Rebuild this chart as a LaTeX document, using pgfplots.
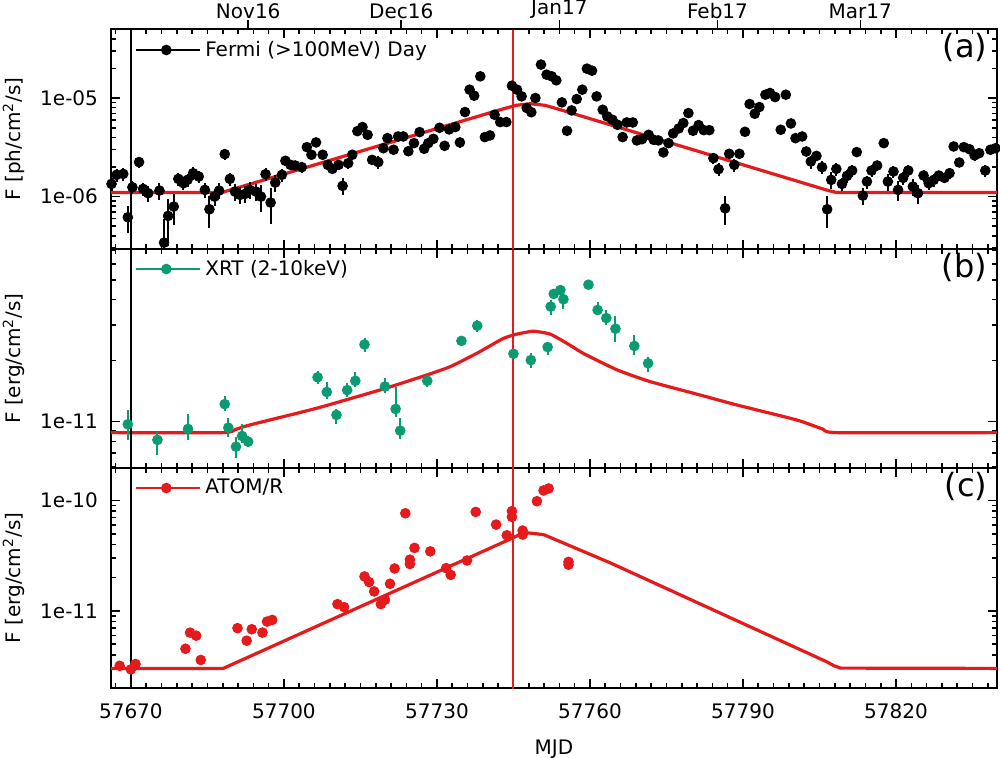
\documentclass[border=0pt]{standalone}
\usepackage{fontspec}
\setmainfont{DejaVu Sans}
\usepackage{pgfplots}
\pgfplotsset{compat=1.18}
\usepackage{pgfplotstable}

\definecolor{modelred}{RGB}{228,26,28}
\definecolor{xrtgreen}{RGB}{10,155,115}

\pgfplotstableread{
x y r
57666.2 1.346e-6 0.15
57667.2 1.663e-6 0.15
57668.5 1.70e-6 0.15
57669.4 6.17e-7 0.3
57670.3 1.245e-6 0.15
57671.6 2.24e-6 0.12
57672.4 1.198e-6 0.15
57673.4 1.082e-6 0.18
57675.6 1.152e-6 0.2
57676.5 3.41e-7 0.75
57677.3 6.37e-7 0.5
57678.4 7.92e-7 0.35
57679.3 1.514e-6 0.15
57680.3 1.368e-6 0.15
57681.1 1.479e-6 0.15
57682.2 1.728e-6 0.15
57683.3 1.599e-6 0.15
57684.5 1.170e-6 0.18
57685.4 7.44e-7 0.35
57686.4 1.0e-6 0.2
57687.3 1.152e-6 0.18
57688.4 2.70e-6 0.12
57689.4 1.514e-6 0.15
57690.4 1.125e-6 0.2
57691.4 1.041e-6 0.2
57692.4 1.065e-6 0.2
57693.3 1.170e-6 0.2
57694.5 1.125e-6 0.2
57695.5 1.0e-6 0.3
57696.4 1.689e-6 0.15
57697.4 8.70e-7 0.4
57698.3 1.389e-6 0.2
57699.6 1.663e-6 0.15
57700.3 2.31e-6 0.12
57701.3 2.10e-6 0.12
57702.2 2.07e-6 0.12
57703.5 1.99e-6 0.12
57704.5 3.18e-6 0.1
57705.4 2.66e-6 0.1
57706.3 3.55e-6 0.1
57707.6 2.66e-6 0.1
57708.6 2.10e-6 0.12
57709.5 1.913e-6 0.12
57710.7 2.10e-6 0.12
57711.5 1.285e-6 0.2
57712.6 2.185e-6 0.12
57713.4 2.66e-6 0.1
57714.4 4.62e-6 0.08
57715.4 5.08e-6 0.08
57716.4 4.24e-6 0.08
57717.3 2.36e-6 0.1
57718.5 2.24e-6 0.15
57719.5 3.10e-6 0.1
57720.3 3.92e-6 0.08
57721.5 2.99e-6 0.08
57722.4 4.08e-6 0.08
57723.4 4.08e-6 0.08
57724.4 2.89e-6 0.08
57725.5 3.49e-6 0.08
57726.6 4.52e-6 0.08
57727.5 3.06e-6 0.08
57728.3 3.49e-6 0.08
57729.3 3.86e-6 0.08
57730.5 5.00e-6 0.08
57731.5 3.28e-6 0.1
57732.4 4.81e-6 0.08
57733.6 5.08e-6 0.08
57734.5 3.55e-6 0.12
57735.5 7.22e-6 0.08
57736.4 1.218e-5 0.06
57737.3 1.058e-5 0.06
57738.5 1.664e-5 0.06
57739.4 4.02e-6 0.08
57740.4 4.18e-6 0.08
57741.3 6.78e-6 0.1
57742.4 5.71e-6 0.08
57743.6 5.71e-6 0.08
57744.7 1.337e-5 0.06
57745.7 1.218e-5 0.06
57746.6 1.041e-5 0.06
57747.6 7.95e-6 0.06
57748.5 7.19e-6 0.06
57749.3 1.002e-5 0.06
57750.4 2.19e-5 0.06
57751.5 1.730e-5 0.06
57752.5 1.664e-5 0.06
57753.4 1.515e-5 0.06
57754.5 9.05e-6 0.06
57755.5 4.66e-6 0.08
57756.4 7.50e-6 0.06
57757.4 9.78e-6 0.06
57758.5 1.218e-5 0.06
57759.4 1.991e-5 0.06
57760.4 1.90e-5 0.06
57761.3 1.041e-5 0.06
57762.5 7.62e-6 0.06
57763.4 6.52e-6 0.06
57764.4 6.03e-6 0.06
57765.4 5.36e-6 0.06
57766.4 4.02e-6 0.08
57767.2 5.66e-6 0.06
57768.4 5.66e-6 0.06
57769.2 3.72e-6 0.08
57770.2 3.83e-6 0.08
57771.5 4.24e-6 0.08
57772.5 3.77e-6 0.08
57773.4 3.72e-6 0.08
57774.4 2.81e-6 0.1
57775.4 3.49e-6 0.1
57776.3 4.38e-6 0.08
57777.4 4.92e-6 0.08
57778.3 5.58e-6 0.08
57779.3 7.05e-6 0.08
57780.2 4.66e-6 0.08
57781.3 5.32e-6 0.08
57782.3 4.73e-6 0.08
57783.4 4.73e-6 0.08
57784.2 2.46e-6 0.12
57785.2 1.898e-6 0.15
57786.5 7.61e-7 0.33
57787.3 2.72e-6 0.1
57788.3 2.10e-6 0.15
57789.3 2.72e-6 0.1
57790.4 4.55e-6 0.08
57791.3 8.71e-6 0.06
57792.3 6.94e-6 0.06
57793.2 8.11e-6 0.06
57794.4 1.083e-5 0.06
57795.3 1.126e-5 0.06
57796.3 1.025e-5 0.06
57797.4 4.77e-6 0.08
57798.4 1.083e-5 0.06
57799.4 5.53e-6 0.08
57800.3 3.92e-6 0.08
57801.6 4.08e-6 0.08
57802.4 2.87e-6 0.1
57803.3 2.27e-6 0.15
57804.4 2.59e-6 0.1
57805.5 1.99e-6 0.15
57806.5 7.44e-7 0.35
57807.3 1.479e-6 0.2
57808.3 1.913e-6 0.15
57809.4 1.346e-6 0.15
57810.4 1.624e-6 0.15
57811.4 1.840e-6 0.15
57812.3 2.83e-6 0.1
57813.5 1.024e-6 0.2
57814.3 1.422e-6 0.15
57815.2 1.840e-6 0.15
57816.3 2.07e-6 0.12
57817.6 3.49e-6 0.08
57818.4 1.422e-6 0.2
57819.5 1.798e-6 0.15
57820.4 1.170e-6 0.22
57821.4 1.55e-6 0.15
57822.4 1.840e-6 0.15
57823.3 1.265e-6 0.2
57824.3 1.082e-6 0.22
57825.4 1.637e-6 0.15
57826.4 1.368e-6 0.15
57827.4 1.479e-6 0.15
57828.4 1.637e-6 0.12
57829.5 1.55e-6 0.12
57830.5 1.728e-6 0.12
57831.3 3.23e-6 0.08
57832.4 2.22e-6 0.1
57833.3 3.18e-6 0.08
57834.4 3.03e-6 0.08
57835.4 2.62e-6 0.12
57836.3 2.76e-6 0.08
57837.5 1.840e-6 0.15
57838.5 2.99e-6 0.08
57839.5 3.10e-6 0.08
}\fermi

\pgfplotstableread{
x y ep em
57669.4 9.71e-12 1.69e-12 1.58e-12
57675.2 8.13e-12 0.80e-12 1.28e-12
57681.2 9.21e-12 1.69e-12 1.08e-12
57688.4 1.22e-11 1.2e-12 0.9e-12
57689.1 9.34e-12 1.06e-12 0.9e-12
57690.6 7.53e-12 0.91e-12 0.93e-12
57691.8 8.5e-12 1.24e-12 0.67e-12
57693.0 7.97e-12 0.5e-12 0.5e-12
57706.6 1.654e-11 1.3e-12 1.2e-12
57708.4 1.40e-11 1.7e-12 1.0e-12
57710.3 1.079e-11 0.8e-12 1.0e-12
57712.4 1.43e-11 1.2e-12 1.0e-12
57714.0 1.59e-11 1.7e-12 1.1e-12
57715.8 2.40e-11 1.8e-12 1.9e-12
57719.8 1.49e-11 1.5e-12 1.1e-12
57721.9 1.155e-11 3.35e-12 0.95e-12
57722.8 9.03e-12 1.37e-12 0.83e-12
57728.1 1.59e-11 1.1e-12 1.0e-12
57734.8 2.50e-11 1.0e-12 1.0e-12
57737.9 2.97e-11 2.0e-12 2.0e-12
57745.0 2.16e-11 1.0e-12 1.0e-12
57748.4 2.01e-11 1.6e-12 1.8e-12
57751.7 2.33e-11 1.5e-12 2.0e-12
57752.3 3.69e-11 2.9e-12 3.4e-12
57752.9 4.26e-11 1.5e-12 1.5e-12
57754.2 4.45e-11 1.5e-12 1.5e-12
57754.8 4.01e-11 3.6e-12 4.3e-12
57759.7 4.73e-11 1.5e-12 1.5e-12
57761.5 3.55e-11 3.5e-12 2.0e-12
57763.2 3.24e-11 3.1e-12 2.5e-12
57765.0 2.87e-11 4.5e-12 3.9e-12
57768.7 2.36e-11 3.1e-12 2.3e-12
57771.4 1.94e-11 1.5e-12 1.8e-12
}\xrt

\pgfplotstableread{
x y
57667.8 3.18e-12
57670.0 2.95e-12
57670.9 3.30e-12
57680.7 4.54e-12
57681.6 6.35e-12
57682.8 5.96e-12
57683.7 3.59e-12
57690.9 6.97e-12
57692.7 5.37e-12
57693.7 6.82e-12
57695.8 6.36e-12
57696.7 8.00e-12
57697.7 8.28e-12
57710.5 1.151e-11
57711.8 1.081e-11
57715.8 2.05e-11
57716.7 1.824e-11
57717.7 1.50e-11
57719.0 1.151e-11
57719.8 1.259e-11
57720.8 1.76e-11
57721.7 2.42e-11
57723.8 7.66e-11
57724.7 2.91e-11
57724.7 2.66e-11
57725.6 3.72e-11
57728.7 3.46e-11
57731.8 2.44e-11
57732.7 2.12e-11
57735.9 2.86e-11
57737.6 7.88e-11
57741.6 6.05e-11
57743.7 4.84e-11
57744.7 8.00e-11
57744.7 7.11e-11
57746.8 5.34e-11
57746.8 4.91e-11
57749.6 9.85e-11
57750.9 1.233e-10
57751.9 1.285e-10
57755.8 2.78e-11
57755.8 2.62e-11
}\atom

\pgfplotstableread{
x y
57666.0 1.10e-6
57687.8 1.10e-6
57742.4 7.62e-6
57745.5 8.45e-6
57748.3 8.77e-6
57751.2 8.45e-6
57754.2 7.62e-6
57806.8 1.15e-6
57808.4 1.10e-6
57840.0 1.10e-6
}\modela

\pgfplotstableread{
x y
57666.0 8.83e-12
57688.1 8.83e-12
57690.5 9.15e-12
57693.3 9.63e-12
57706.4 1.164e-11
57719.5 1.449e-11
57728.0 1.698e-11
57732.6 1.866e-11
57737.8 2.17e-11
57743.0 2.57e-11
57745.7 2.70e-11
57748.9 2.79e-11
57752.2 2.70e-11
57755.5 2.43e-11
57758.7 2.17e-11
57765.3 1.80e-11
57771.8 1.575e-11
57781.6 1.353e-11
57788.7 1.21e-11
57800.5 1.02e-11
57805.6 9.2e-12
57808.4 8.83e-12
57840.0 8.83e-12
}\modelb

\pgfplotstableread{
x y
57666.0 3.01e-12
57688.1 3.01e-12
57743.7 4.33e-11
57746.0 4.85e-11
57748.0 5.08e-11
57750.9 4.91e-11
57754.8 4.12e-11
57764.0 2.72e-11
57806.4 3.46e-12
57807.8 3.19e-12
57809.1 3.03e-12
57840.0 3.01e-12
}\modelc

\pgfplotsset{
  legend image code/.code={%
    \draw[#1] (0pt,0pt) -- (30pt,0pt);
    \draw[#1] plot coordinates {(15pt,0pt)};
    \path (0pt,0pt) -- (32pt,0pt);
  },
}

\begin{document}
\begin{tikzpicture}
% ---------------- panel (c)
\begin{axis}[width=443pt, height=110pt, scale only axis,
  at={(0pt,0pt)}, anchor=south west,
  xmin=57666.1, xmax=57839.8, ymode=log, scaled x ticks=false,
  xtick={57670,57700,57730,57760,57790,57820},
  minor xtick={57667,57670,...,57838},
  tick align=inside, tick pos=both,
  major tick length=4.7pt, minor tick length=2.4pt,
  tick style={line width=0.8pt, black},
  axis line style={line width=0.8pt},
  /pgf/number format/assume math mode=true,
  yticklabel style={xshift=-3pt, font=\fontsize{10}{12}\selectfont},
  xticklabel style={yshift=-4.3pt, font=\fontsize{10}{12}\selectfont},
  ylabel style={at={(axis description cs:-0.10226,0.5)}, rotate=0, anchor=base, font=\fontsize{10}{12}\selectfont},
  xlabel style={at={(axis description cs:0.5,0)}, anchor=north, yshift=-26pt, inner sep=0pt, font=\fontsize{10}{12}\selectfont},
  legend style={draw=none, fill=none, inner sep=0pt, anchor=west, font=\fontsize{10}{12}\selectfont, at={(axis description cs:0.027,0.909)}},
  ymin=2.0e-12, ymax=1.97e-10,
  ytick={1e-11,1e-10}, yticklabels={1e-11,1e-10},
  minor ytick={3e-12,4e-12,5e-12,6e-12,7e-12,8e-12,9e-12,2e-11,3e-11,4e-11,5e-11,6e-11,7e-11,8e-11,9e-11},
  xticklabels={57670,57700,57730,57760,57790,57820},
  xlabel={MJD}, ylabel={F [erg/cm\textsuperscript{2}/s]}]
\addplot[modelred, line width=1.6pt, forget plot] table[x=x,y=y]{\modelc};
\addplot[only marks, mark=*, mark size=2.4pt, mark options={line width=0.5pt, solid}, line width=1pt, color=modelred] table[x=x,y=y]{\atom};
\addlegendentry{ATOM/R}
\addplot[black, line width=0.8pt, forget plot] coordinates {(57670,1e-13) (57670,1e-8)};
\addplot[color=modelred, line width=1pt, forget plot] coordinates {(57745,1e-13) (57745,1e-8)};
\node[anchor=north east, inner sep=0pt, font=\fontsize{16}{19}\selectfont] at (rel axis cs:1,1) [xshift=-4.7pt, yshift=-2pt] {(c)};
\end{axis}
% ---------------- panel (b)
\begin{axis}[width=443pt, height=109.5pt, scale only axis,
  at={(0pt,110pt)}, anchor=south west,
  xmin=57666.1, xmax=57839.8, ymode=log, scaled x ticks=false,
  xtick={57670,57700,57730,57760,57790,57820},
  minor xtick={57667,57670,...,57838},
  tick align=inside, tick pos=both,
  major tick length=4.7pt, minor tick length=2.4pt,
  tick style={line width=0.8pt, black},
  axis line style={line width=0.8pt},
  /pgf/number format/assume math mode=true,
  yticklabel style={xshift=-3pt, font=\fontsize{10}{12}\selectfont},
  ylabel style={at={(axis description cs:-0.10226,0.5)}, rotate=0, anchor=base, font=\fontsize{10}{12}\selectfont},
  legend style={draw=none, fill=none, inner sep=0pt, anchor=west, font=\fontsize{10}{12}\selectfont, at={(axis description cs:0.027,0.9087)}},
  ymin=5.91e-12, ymax=7.09e-11,
  ytick={1e-11}, yticklabels={1e-11},
  minor ytick={6e-12,7e-12,8e-12,9e-12,2e-11,3e-11,4e-11,5e-11,6e-11,7e-11},
  xticklabels={},
  ylabel={F [erg/cm\textsuperscript{2}/s]}]
\addplot[modelred, line width=1.6pt, smooth, tension=0.3, forget plot] table[x=x,y=y]{\modelb};
\addplot[only marks, mark=*, mark size=2.4pt, mark options={line width=0.5pt, solid}, line width=1pt, color=xrtgreen,
  error bars/.cd, y dir=both, y explicit, error bar style={line width=1pt}, error mark=none]
  table[x=x,y=y,y error plus=ep,y error minus=em]{\xrt};
\addlegendentry{XRT (2-10keV)}
\addplot[black, line width=0.8pt, forget plot] coordinates {(57670,1e-13) (57670,1e-9)};
\addplot[color=modelred, line width=1pt, forget plot] coordinates {(57745,1e-13) (57745,1e-9)};
\node[anchor=north east, inner sep=0pt, font=\fontsize{16}{19}\selectfont] at (rel axis cs:1,1) [xshift=-4.7pt, yshift=-2pt] {(b)};
\end{axis}
% ---------------- panel (a)
\begin{axis}[width=443pt, height=110pt, scale only axis,
  at={(0pt,219.5pt)}, anchor=south west,
  xmin=57666.1, xmax=57839.8, ymode=log, scaled x ticks=false,
  xtick={57670,57700,57730,57760,57790,57820},
  minor xtick={57667,57670,...,57838},
  tick align=inside, tick pos=both,
  major tick length=4.7pt, minor tick length=2.4pt,
  tick style={line width=0.8pt, black},
  axis line style={line width=0.8pt},
  /pgf/number format/assume math mode=true,
  yticklabel style={xshift=-3pt, font=\fontsize{10}{12}\selectfont},
  ylabel style={at={(axis description cs:-0.10226,0.5)}, rotate=0, anchor=base, font=\fontsize{10}{12}\selectfont},
  legend style={draw=none, fill=none, inner sep=0pt, anchor=west, font=\fontsize{10}{12}\selectfont, at={(axis description cs:0.027,0.9045)}},
  ymin=2.94e-7, ymax=5.03e-5,
  ytick={1e-6,1e-5}, yticklabels={1e-06,1e-05},
  minor ytick={3e-7,4e-7,5e-7,6e-7,7e-7,8e-7,9e-7,2e-6,3e-6,4e-6,5e-6,6e-6,7e-6,8e-6,9e-6,2e-5,3e-5,4e-5,5e-5},
  xticklabels={},
  ylabel={F [ph/cm\textsuperscript{2}/s]}]
\addplot[modelred, line width=1.6pt, forget plot] table[x=x,y=y]{\modela};
\addplot[only marks, mark=*, mark size=2.4pt, mark options={line width=0.5pt, solid}, line width=1pt, color=black,
  error bars/.cd, y dir=both, y explicit relative, error bar style={line width=1pt}, error mark=none]
  table[x=x,y=y,y error=r]{\fermi};
\addlegendentry{Fermi (>100MeV) Day}
\addplot[black, line width=0.8pt, forget plot] coordinates {(57670,1e-8) (57670,1e-3)};
\addplot[color=modelred, line width=1pt, forget plot] coordinates {(57745,1e-8) (57745,1e-3)};
\node[anchor=north east, inner sep=0pt, font=\fontsize{16}{19}\selectfont] at (rel axis cs:1,1) [xshift=-4.7pt, yshift=-2pt] {(a)};
\end{axis}
% ---------------- month axis on top
\begin{axis}[at={(0pt,219.5pt)}, anchor=south west, width=443pt, height=110pt, scale only axis,
  xmin=57666.1, xmax=57839.8, ymin=0, ymax=1, scaled x ticks=false,
  axis x line*=top, axis y line=none,
  xtick={57693,57723,57754,57785,57813},
  xticklabels={Nov16,Dec16,Jan17,Feb17,Mar17},
  minor xtick={},
  tick align=outside, major tick length=4.5pt,
  tick style={line width=0.8pt, black},
  axis line style={line width=0.8pt},
  xticklabel style={yshift=-3pt, font=\fontsize{10}{12}\selectfont}]
\addplot[draw=none, forget plot] coordinates {(57700,0.5)};
\end{axis}
\pgfresetboundingbox
\path[use as bounding box] (-55.5pt,-35pt) rectangle (444.5pt,344pt);
\end{tikzpicture}
\end{document}
